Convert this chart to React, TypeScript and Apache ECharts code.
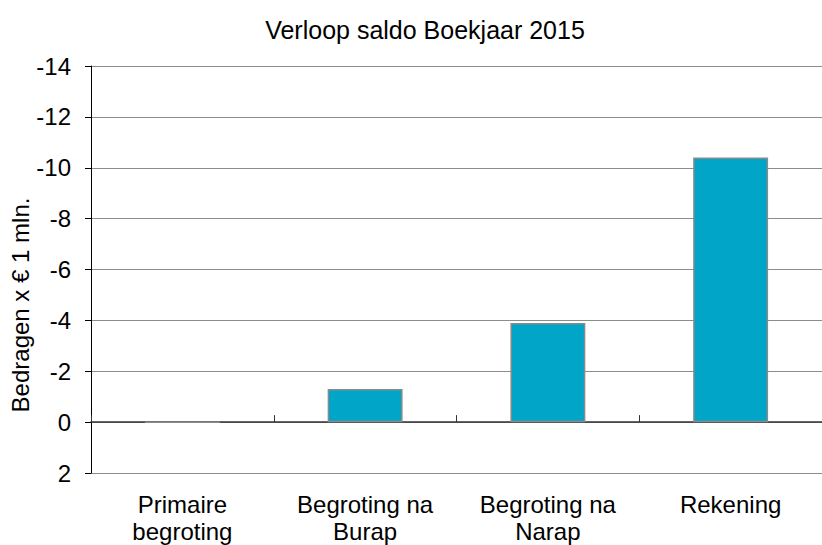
import React, { useEffect, useRef } from "react";
import * as echarts from "echarts";

const categories = ["Primaire\nbegroting", "Begroting na\nBurap", "Begroting na\nNarap", "Rekening"];
const saldo = [0, -1.3, -3.9, -10.4];
const yMin = -14;
const yMax = 2;
const yInterval = 2;
const yTitle = "Bedragen x € 1 mln.";

export default function App() {
  const ref = useRef<HTMLDivElement>(null);
  useEffect(() => {
    if (!ref.current) return;
    const chart = echarts.init(ref.current, null, { renderer: "svg" });
    const font = "'Liberation Sans', Arial, sans-serif";
    chart.setOption({
      animation: false,
      backgroundColor: "#ffffff",
      title: {
        text: "Verloop saldo Boekjaar 2015",
        left: 420,
        top: 12,
        textAlign: "center",
        textStyle: { fontFamily: font, fontSize: 25, fontWeight: "normal", color: "#000" },
      },
      grid: { left: 91, top: 66, right: -4, bottom: 68 },
      graphic: [
        {
          type: "text",
          x: 20,
          y: 305,
          rotation: Math.PI / 2,
          style: {
            text: yTitle,
            fontFamily: font,
            fontSize: 24,
            fill: "#000",
            align: "center",
            verticalAlign: "middle",
          },
        },
      ],
      xAxis: [
        {
          type: "category",
          data: categories,
          axisLine: { onZero: true, lineStyle: { color: "#333", width: 1.5 } },
          axisTick: { show: true, inside: true, length: 7, alignWithLabel: false, lineStyle: { color: "#333" } },
          axisLabel: { show: false },
          splitLine: { show: false },
        },
        {
          type: "category",
          data: categories,
          position: "bottom",
          axisLine: { show: false, onZero: false },
          axisTick: { show: false },
          axisLabel: {
            show: true,
            margin: 18,
            fontFamily: font,
            fontSize: 24,
            lineHeight: 27,
            color: "#000",
            verticalAlign: "top",
          },
        },
      ],
      yAxis: {
        type: "value",
        inverse: true,
        min: yMin,
        max: yMax,
        interval: yInterval,
        axisLine: { show: true, lineStyle: { color: "#000", width: 1 } },
        axisTick: { show: true, length: 6, lineStyle: { color: "#000" } },
        axisLabel: { margin: 20, fontFamily: font, fontSize: 24, color: "#000" },
        splitLine: { show: true, lineStyle: { color: "#8c8c8c", width: 1 } },
      },
      series: [
        {
          type: "bar",
          xAxisIndex: 0,
          data: saldo,
          barWidth: "41%",
          itemStyle: { color: "#00a5c8", borderColor: "#8a8a8a", borderWidth: 1.5 },
        },
      ],
    });
    return () => chart.dispose();
  }, []);
  return <div ref={ref} style={{ width: 822, height: 545, position: "absolute", left: 0, top: 0 }} />;
}
